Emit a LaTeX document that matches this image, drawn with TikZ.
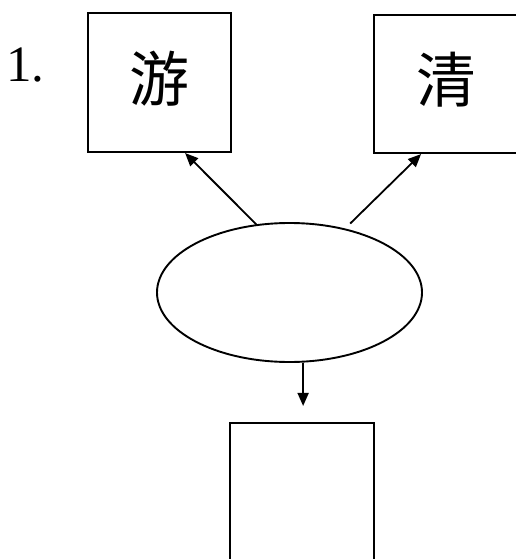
\documentclass[tikz,border=0pt]{standalone}
\usepackage{fontspec}
\setmainfont{Liberation Serif}
\newfontfamily\cjk{Noto Sans CJK SC}
\usetikzlibrary{arrows.meta, positioning, shapes.geometric}

\begin{document}
\begin{tikzpicture}[
    x=1pt, y=-1pt,
    % Styles
    charbox/.style={draw, line width=2.2pt, minimum width=143pt, minimum height=139pt, inner sep=0pt, font=\cjk\fontsize{60}{60}\selectfont},
    oval/.style={draw, ellipse, line width=1.9pt, minimum width=265pt, minimum height=139pt, inner sep=0pt},
    linkarrow/.style={-{Triangle[length=13pt, width=11pt]}, line width=1.8pt}
]
    \clip (0,0) rectangle (516,559);

    % Ellipse in the middle
    \node[oval] (ell) at (289.5,292.5) {};

    % Item number
    \node[anchor=base west, inner sep=0pt, font=\fontsize{51}{51}\selectfont] (num) at (6,82) {1.};

    % Upper boxes
    \node[charbox, above left=69pt and 57.5pt of ell.north] (you) {\raisebox{12pt}{游}};
    \node[charbox, minimum width=145pt, minimum height=138pt, above right=68pt and 83.5pt of ell.north] (qing) {\raisebox{14pt}{清}};

    % Lower box (empty)
    \node[charbox, minimum width=144pt, minimum height=137pt, below=59pt of ell, xshift=12.5pt] (low) {};

    % Arrows
    \draw[linkarrow] (ell.116) -- (you.-70);
    \draw[linkarrow, shorten <=7pt] (ell.49) -- (qing.-110);
    \draw[linkarrow, shorten >=16pt] (ell.-79) -- (ell.-79 |- low.north);
\end{tikzpicture}
\end{document}
